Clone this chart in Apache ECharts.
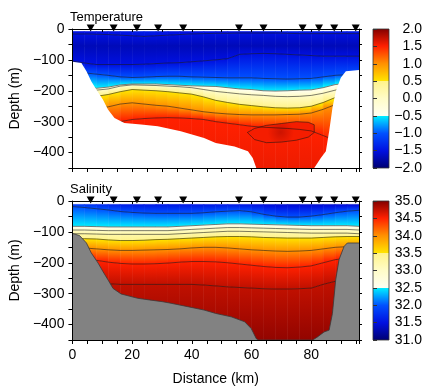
<!DOCTYPE html>
<html><head><meta charset="utf-8">
<script src="https://cdn.jsdelivr.net/npm/echarts@6/dist/echarts.min.js"></script>
<style>html,body{margin:0;padding:0;background:#fff}#c{width:437px;height:392px}</style>
</head><body><div id="c"></div>
<script>
// ---------------- data ----------------
const distance = [0,4,8,12,16,20,24,28,32,36,40,44,48,52,56,60,64,68,72,76,80,84,88,92,96];
const stations = [6.1,13.8,21.6,28.7,37.1,55.8,64,77.1,82.6,87.7,94.9];

// temperature section: depth (m) of each level along distance, top to bottom
const tempTopDepth = 8;
const tempSurface = [-1.5,-1.5,-1.5,-1.5,-1.47,-1.42,-1.4,-1.42,-1.47,-1.5,-1.5,-1.5,-1.5,-1.5,-1.5,-1.47,-1.42,-1.4,-1.4,-1.4,-1.42,-1.42,-1.42,-1.42,-1.42];
const tempM15Upper = [16,16,17,18,20,22,24,22,20,18,16,15,14,14,13,13,13,13,14,15,15,15,15,15,15];
const tempCoreDepth = 55, tempCoreValue = -1.68;
const tempM15Lower = [104,110,115,115,115,115,114,112,110,109,106,103,100,96,82,80,79,80,82,84,86,88,88,88,88];
const tempM10 = [140,142,146,150,155,157,156,154,153,153,155,156,157,158,158,158,160,161,162,161,160,155,150,148,148];
const tempM05 = [170,180,192,188,181,178,178,178,180,182,184,185,186,190,194,196,200,201,200,198,197,190,180,175,175];
const tempP00 = [185,192,198,194,185,181,182,183,185,187,190,196,202,206,210,213,215,218,219,218,215,208,198,192,192];
const tempP05 = [225,222,218,212,203,196,198,200,203,207,211,220,231,238,244,248,252,255,256,255,250,238,222,215,215];
const tempP10 = [265,262,258,252,243,239,243,247,250,256,262,268,272,275,277,278,278,278,277,276,272,260,245,240,240];
const tempP15 = [330,325,320,312,300,293,290,288,287,288,290,293,300,305,310,315,318,320,322,325,330,345,360,360,360];
const tempDeepDepth = 470, tempDeepValue = 1.58;
const tempPocketX = [58.6,61,65,70,75,79,81,81,79,75,70,65,61,58.6];
const tempPocketD = [335,322,312,306,300,302,310,335,350,360,366,368,358,335];
const tempPocketValue = 1.7;
const tempDataBottomX = [0,3,4.7,6.3,8,10.2,11.9,14.1,17.4,23,28.6,36.3,44.1,48,54.3,58.8,60.4,61.6,81,83.2,84.9,86,87.1,88.2,89.9,91.6,96];
const tempDataBottomD = [106,110,137,169,196,228,261,288,304,309,315,331,353,369,380,396,418,450,450,418,396,331,256,202,158,137,133];

// salinity section
const salTopDepth = 11;
const salSurface = [31.8,31.75,31.7,31.65,31.6,31.55,31.55,31.55,31.55,31.55,31.55,31.55,31.55,31.55,31.55,31.5,31.45,31.4,31.4,31.4,31.4,31.4,31.4,31.4,31.4];
const sal320 = [18,21,25,29,34,37,39,40,40,40,40,38,35,33,31,35,43,49,52,52,49,44,38,33,30];
const sal325 = [82,82,83,84,84,84,84,84,84,82,80,78,76,74,74,75,76,77,78,79,80,80,80,80,82];
const sal330 = [94,94,95,96,96,96,96,96,96,94,92,90,88,86,86,87,88,89,90,91,92,92,92,92,94];
const sal3325 = [106,106,107,108,108,108,108,108,108,106,104,102,100,98,98,99,100,101,102,103,104,104,104,104,106];
const sal335 = [122,122,123,126,128,128,127,125,124,122,120,118,116,115,115,116,118,119,120,120,120,118,116,115,115];
const sal340 = [150,152,155,158,160,160,159,158,157,155,152,150,150,152,155,158,160,162,163,162,160,155,150,148,148];
const sal345 = [180,185,192,198,202,204,204,203,201,198,196,196,197,200,204,208,212,215,216,214,210,200,190,185,185];
const sal3475 = [250,255,262,268,270,270,270,270,270,270,270,272,275,278,280,282,284,285,285,284,282,270,260,255,255];
const salDeepDepth = 470, salDeepValue = 34.95;
const bathyX = [0,2.4,4.7,6.3,8.6,10.2,11.9,13.6,16.3,21.9,26.3,30.2,33,38.6,44.1,48,53.2,57.7,59.9,61.6,62.3,80.5,82.1,84.3,86,87.1,88.2,89.3,91,92.1,96];
const bathyD = [105,112,136,168,201,228,255,283,301,315,321,326,331,342,353,364,375,391,413,446,450,450,440,424,418,364,255,190,147,136,136];

const tempRange = [-2, 2], salRange = [31, 35];

// ---------------- colour map ----------------
const knots = [
  [0,'#000070','#000070'],[0.125,'#0010e0','#0010e0'],[0.25,'#0050ff','#0050ff'],
  [0.375,'#00eeff','#fffff2'],[0.5,'#fffcc8','#fffcc8'],[0.625,'#fff38a','#ffe400'],
  [0.75,'#ff9000','#ff9000'],[0.875,'#ff2000','#ff2000'],[1,'#800000','#800000']
];
function hex(h){return [parseInt(h.slice(1,3),16),parseInt(h.slice(3,5),16),parseInt(h.slice(5,7),16)];}
const K = knots.map(k=>({t:k[0],lo:hex(k[1]),hi:hex(k[2])}));
function rgb(a){return 'rgb('+a.map(Math.round).join(',')+')';}
function colorT(t, preferHi){
  t=Math.max(0,Math.min(1,t));
  for(const k of K){ if(Math.abs(t-k.t)<1e-9) return rgb(preferHi?k.hi:k.lo); }
  for(let i=0;i<K.length-1;i++){
    if(t>K[i].t && t<K[i+1].t){
      const f=(t-K[i].t)/(K[i+1].t-K[i].t);
      return rgb(K[i].hi.map((c,n)=>c+(K[i+1].lo[n]-c)*f));
    }
  }
  return rgb(K[K.length-1].lo);
}
function stopsFor(tA,tB){
  tA=Math.max(0,Math.min(1,tA)); tB=Math.max(0,Math.min(1,tB));
  const up=tB>tA, s=[{offset:0,color:colorT(tA,up)}];
  const inner=K.filter(k=>k.t>Math.min(tA,tB)+1e-9 && k.t<Math.max(tA,tB)-1e-9);
  if(!up) inner.reverse();
  for(const k of inner){
    const f=(k.t-tA)/(tB-tA);
    s.push({offset:f,color:rgb(up?k.lo:k.hi)});
    s.push({offset:f,color:rgb(up?k.hi:k.lo)});
  }
  s.push({offset:1,color:colorT(tB,!up)});
  return s;
}

// ---------------- section builders ----------------
function row(v,d,line){return {v:v,d:d,line:!!line};}
const tempRows = [
  row(tempSurface,tempTopDepth), row(-1.5,tempM15Upper,true), row(tempCoreValue,tempCoreDepth),
  row(-1.5,tempM15Lower,true), row(-1.0,tempM10,true), row(-0.5,tempM05,true), row(0,tempP00,true),
  row(0.5,tempP05,true), row(1.0,tempP10,true), row(1.5,tempP15,true),
  row(tempDeepValue,tempDeepDepth)
];
const salRows = [
  row(salSurface,salTopDepth), row(32.0,sal320,true), row(32.5,sal325,true), row(33.0,sal330,true),
  row(33.25,sal3325,true), row(33.5,sal335,true), row(34.0,sal340,true), row(34.5,sal345,true),
  row(34.75,sal3475,true), row(salDeepValue,salDeepDepth)
];
function dAt(r,j){return typeof r.d==='number'?r.d:r.d[j];}
function vAt(r,j){return typeof r.v==='number'?r.v:(r.v[j]+r.v[j+1])/2;}

function fieldSeries(rows, range, xi, yi){
  const norm=v=>(v-range[0])/(range[1]-range[0]);
  return {
    type:'custom', xAxisIndex:xi, yAxisIndex:yi, clip:true, silent:true, z:1,
    data: distance.slice(0,-1).map(x=>[x,0]),
    renderItem:function(params,api){
      const j=params.dataIndex, ch=[];
      for(let r=0;r<rows.length-1;r++){
        const A=rows[r],B=rows[r+1];
        const a0=dAt(A,j),a1=dAt(A,j+1),b0=dAt(B,j),b1=dAt(B,j+1);
        if(b0<=a0 && b1<=a1) continue;
        const p1=api.coord([distance[j],-a0]),p2=api.coord([distance[j+1],-a1]),
              p3=api.coord([distance[j+1],-b1]),p4=api.coord([distance[j],-b0]);
        const yT=(p1[1]+p2[1])/2,yB=(p3[1]+p4[1])/2;
        const tA=norm(vAt(A,j)),tB=norm(vAt(B,j));
        let fill;
        if(yB-yT<0.5||Math.abs(tA-tB)<1e-9) fill=colorT((tA+tB)/2,true);
        else fill={type:'linear',x:0,y:yT,x2:0,y2:yB,global:true,colorStops:stopsFor(tA,tB)};
        ch.push({type:'polygon',shape:{points:[p1,p2,p3,p4]},style:{fill:fill,stroke:fill,lineWidth:0.6}});
      }
      return {type:'group',children:ch};
    }
  };
}
function contourSeries(rows, xi, yi){
  return rows.filter(r=>r.line).map(r=>({
    type:'line', xAxisIndex:xi, yAxisIndex:yi, silent:true, z:3, showSymbol:false,
    data: distance.map((x,j)=>[x,-dAt(r,j)]),
    lineStyle:{color:'rgba(20,20,20,0.62)',width:0.9}
  }));
}
function polySeries(xs, ds, xi, yi, fill, z){
  return {
    type:'custom', xAxisIndex:xi, yAxisIndex:yi, silent:true, z:z, data:[[0,0]],
    renderItem:function(params,api){
      const pts=xs.map((x,i)=>api.coord([x,-ds[i]]));
      pts.push(api.coord([96,-450])); pts.push(api.coord([0,-450]));
      return {type:'polygon',shape:{points:pts},style:{fill:fill,stroke:null}};
    }
  };
}
function edgeSeries(xs, ds, xi, yi){
  return {type:'line',xAxisIndex:xi,yAxisIndex:yi,silent:true,z:5,showSymbol:false,
    data:xs.map((x,i)=>[x,-ds[i]]),lineStyle:{color:'#3a3a3a',width:0.8}};
}
function pocketSeries(xs, ds, val, range, xi, yi){
  const t=(val-range[0])/(range[1]-range[0]), tEdge=(1.5-range[0])/(range[1]-range[0]);
  return [{
    type:'custom', xAxisIndex:xi, yAxisIndex:yi, silent:true, z:2, data:[[0,0]],
    renderItem:function(params,api){
      const pts=xs.map((x,i)=>api.coord([x,-ds[i]]));
      return {type:'polygon',shape:{points:pts},style:{
        fill:{type:'radial',x:0.5,y:0.5,r:0.6,colorStops:[{offset:0,color:colorT(t,true)},{offset:1,color:colorT(tEdge+0.01,true)}]},
        stroke:'rgba(20,20,20,0.62)',lineWidth:0.9}};
    }
  }];
}
function stationSeries(xi, yi){
  return {type:'scatter',xAxisIndex:xi,yAxisIndex:yi,z:12,clip:false,silent:true,
    symbol:'triangle',symbolRotate:180,symbolSize:[8,7],symbolOffset:[0,-1],
    itemStyle:{color:'#000',opacity:1},data:stations.map(s=>[s,0])};
}
function colorbarSeries(xi, yi){
  const stops=[];
  K.forEach(k=>{stops.push({offset:k.t,color:rgb(k.lo)});stops.push({offset:k.t,color:rgb(k.hi)});});
  return {type:'custom',xAxisIndex:xi,yAxisIndex:yi,silent:true,z:1,data:[[0,0]],
    renderItem:function(params){
      const c=params.coordSys;
      return {type:'rect',shape:{x:c.x,y:c.y,width:c.width,height:c.height},
        style:{fill:{type:'linear',x:0,y:1,x2:0,y2:0,colorStops:stops},stroke:'#333',lineWidth:0.8}};
    }};
}

// ---------------- axes ----------------
const FONT='Liberation Sans, Arial, Helvetica, sans-serif';
const minus=s=>String(s).replace('-','\u2212');
const ax={color:'#000',width:1};
function xBottom(g,labels){
  return {type:'value',gridIndex:g,min:0,max:96,interval:5,position:'bottom',z:10,
    axisLine:{show:true,onZero:false,lineStyle:ax},
    axisTick:{show:true,inside:false,length:4,lineStyle:ax},splitLine:{show:false},
    axisLabel:{show:labels,margin:8,fontSize:14,color:'#000',fontFamily:FONT,
      formatter:v=>(v%20===0?String(v):'')},
    name:labels?'Distance (km)':'',nameLocation:'middle',nameGap:32,
    nameTextStyle:{fontSize:14,color:'#000',fontFamily:FONT}};
}
function xTop(g){
  return {type:'value',gridIndex:g,min:0,max:96,interval:10,position:'top',z:10,
    axisLine:{show:true,onZero:false,lineStyle:ax},
    axisTick:{show:true,inside:true,length:3,lineStyle:ax},splitLine:{show:false},axisLabel:{show:false}};
}
function yLeft(g){
  return {type:'value',gridIndex:g,min:-450,max:0,interval:50,position:'left',z:10,
    axisLine:{show:true,onZero:false,lineStyle:ax},
    axisTick:{show:true,inside:false,length:4,lineStyle:ax},splitLine:{show:false},
    axisLabel:{margin:8,fontSize:14,color:'#000',fontFamily:FONT,
      formatter:v=>(v%100===0?minus(v):'')},
    name:'Depth (m)',nameLocation:'middle',nameRotate:90,nameGap:37,
    nameTextStyle:{fontSize:14,color:'#000',fontFamily:FONT}};
}
function yRight(g){
  return {type:'value',gridIndex:g,min:-450,max:0,interval:50,position:'right',z:10,
    axisLine:{show:true,onZero:false,lineStyle:ax},
    axisTick:{show:true,inside:false,length:3,lineStyle:ax},splitLine:{show:false},axisLabel:{show:false}};
}
function yBar(g,range){
  return {type:'value',gridIndex:g,min:range[0],max:range[1],interval:0.5,position:'right',z:10,
    axisLine:{show:false},axisTick:{show:true,inside:false,length:4,lineStyle:{color:'#333',width:1}},
    splitLine:{show:false},
    axisLabel:{margin:33,align:'right',fontSize:14,color:'#000',fontFamily:FONT,
      formatter:v=>minus(v.toFixed(1))}};
}
function xBar(g){return {type:'value',gridIndex:g,min:0,max:1,show:false};}

const option={
  animation:false,
  backgroundColor:'#fff',
  title:[
    {text:'Temperature',left:70,top:11,padding:0,textStyle:{fontSize:13,fontWeight:'normal',color:'#000',fontFamily:FONT}},
    {text:'Salinity',left:70,top:183,padding:0,textStyle:{fontSize:13,fontWeight:'normal',color:'#000',fontFamily:FONT}}
  ],
  grid:[
    {left:71,top:29,width:288,height:139},
    {left:71,top:201,width:288,height:139},
    {left:373,top:29,width:16,height:139},
    {left:373,top:201,width:16,height:139}
  ],
  xAxis:[xBottom(0,false),xTop(0),xBottom(1,true),xTop(1),xBar(2),xBar(3)],
  yAxis:[yLeft(0),yRight(0),yLeft(1),yRight(1),yBar(2,tempRange),yBar(3,salRange)],
  series:[].concat(
    [fieldSeries(tempRows,tempRange,0,0)],
    pocketSeries(tempPocketX,tempPocketD,tempPocketValue,tempRange,0,0),
    contourSeries(tempRows,0,0),
    [polySeries(tempDataBottomX,tempDataBottomD,0,0,'#fff',4)],
    [stationSeries(1,0)],
    [fieldSeries(salRows,salRange,2,2)],
    contourSeries(salRows,2,2),
    [polySeries(bathyX,bathyD,2,2,'#828282',4), edgeSeries(bathyX,bathyD,2,2)],
    [stationSeries(3,2)],
    [colorbarSeries(4,4), colorbarSeries(5,5)]
  )
};
echarts.init(document.getElementById('c'),null,{renderer:'canvas'}).setOption(option);
</script></body></html>
